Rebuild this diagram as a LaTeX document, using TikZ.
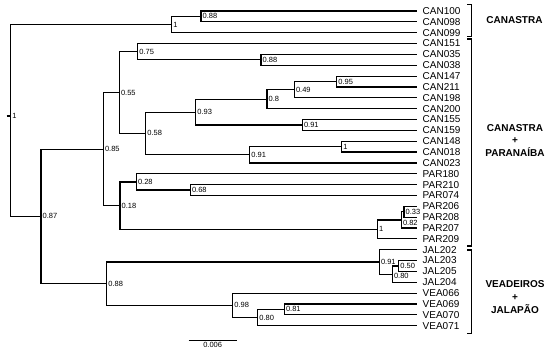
\documentclass[tikz,border=0pt]{standalone}
\usepackage{fontspec}
\setmainfont{Liberation Sans}
\begin{document}
\begin{tikzpicture}[x=1pt, y=-1pt,
  branch/.style={line width=1.2pt},
  leaf/.style={anchor=west, inner sep=0pt, inner xsep=5.5pt, font=\fontsize{10}{10}\selectfont},
  sup/.style={anchor=west, inner sep=1.5pt, font=\fontsize{7.5}{7.5}\selectfont},
  clade/.style={align=center, font=\bfseries\fontsize{10}{12.8}\selectfont},
  bracket/.style={line width=1.4pt}]
  \useasboundingbox (0,0) rectangle (550,351);
  % leaves
  \foreach \n [count=\i from 0] in {CAN100,CAN098,CAN099,CAN151,CAN035,CAN038,CAN147,CAN211,CAN198,CAN200,CAN155,CAN159,CAN148,CAN018,CAN023,PAR180,PAR210,PAR074,PAR206,PAR208,PAR207,PAR209,JAL202,JAL203,JAL205,JAL204,VEA066,VEA069,VEA070,VEA071}
    \node[leaf] (\n) at (417,{11+10.85*\i}) {\n};
  % internal nodes
  \foreach \n/\x/\y in {root/10.7/116, c1/171.7/24.6, c88/201/16.4, n75/137.7/51.7, n88b/261/59.8,
    n95/336.7/81.5, n49/294.3/89.7, n8/267/99.2, n91a/302.3/124.9, n93/195.7/112.1,
    n1a/341.7/146.6, n91b/249.7/154.8, n58/145.7/133.4, n55/119.3/92.6, n68/190.3/190,
    n28/136.3/181.9, n33/404/211.7, n82/401.3/219.9, n1b/377.3/229.4, n18/120/205.6,
    n85/103.3/149.1, n50/398.7/266, n80a/392.3/274.1, n91c/379.3/261.9, n81/284.3/309.4,
    n80b/257.7/317.5, n98/232.7/305.3, n88c/106.7/283.6, n87/41/216.4}
    \coordinate (\n) at (\x,\y);
  \coordinate (stub) at (6.7,116);
  % branches
  \draw[branch] (stub) -- (root);
  \foreach \a/\b in {root/c1, root/n87, c1/c88, n87/n85, n87/n88c, n85/n55, n85/n18,
    n55/n75, n55/n58, n75/n88b, n58/n93, n58/n91b, n93/n8, n93/n91a, n8/n49, n49/n95,
    n91b/n1a, n18/n28, n18/n1b, n28/n68, n1b/n82, n82/n33, n88c/n91c, n88c/n98,
    n91c/n80a, n80a/n50, n98/n80b, n80b/n81}
    \draw[branch] (\a) |- (\b);
  \foreach \a/\b in {c88/CAN100, c88/CAN098, c1/CAN099, n75/CAN151, n88b/CAN035, n88b/CAN038,
    n95/CAN147, n95/CAN211, n49/CAN198, n8/CAN200, n91a/CAN155, n91a/CAN159, n1a/CAN148,
    n1a/CAN018, n91b/CAN023, n28/PAR180, n68/PAR210, n68/PAR074, n33/PAR206, n33/PAR208,
    n82/PAR207, n1b/PAR209, n91c/JAL202, n50/JAL203, n50/JAL205, n80a/JAL204, n98/VEA066,
    n81/VEA069, n81/VEA070, n80b/VEA071}
    \draw[branch] (\a) |- (\b.west);
  % support values
  \foreach \n/\t in {root/1, c1/1, c88/0.88, n75/0.75, n88b/0.88, n95/0.95, n49/0.49, n8/0.8,
    n93/0.93, n91a/0.91, n58/0.58, n1a/1, n91b/0.91, n55/0.55, n85/0.85, n28/0.28, n68/0.68,
    n18/0.18, n33/0.33, n1b/1, n87/0.87, n91c/0.91, n50/0.50, n88c/0.88, n98/0.98,
    n81/0.81, n80b/0.80}
    \node[sup] (s\n) at (\n) {\t};
  \node[sup, yshift=-3pt] (sn82) at (n82) {0.82};
  \node[sup, yshift=-2pt] (sn80a) at (n80a) {0.80};
  % clades
  \draw[bracket] (467,4.5) -- (471.5,4.5) -- (471.5,36.5) -- (467,36.5);
  \draw[bracket] (467,39) -- (471.5,39) -- (471.5,246) -- (467,246);
  \draw[bracket] (467,250) -- (471.5,250) -- (471.5,333.3) -- (467,333.3);
  \node[clade] (canastra) at (514.5,20) {CANASTRA};
  \node[clade] (canpar) at (515,140.5) {CANASTRA\\+\\PARANAÍBA};
  \node[clade] (veajal) at (515,297.2) {VEADEIROS\\+\\JALAPÃO};
  % scale
  \coordinate (sb1) at (188.7,340.3);
  \coordinate (sb2) at (236.7,340.3);
  \draw[line width=0.8pt] (sb1) -- (sb2) node[midway, below, inner sep=1.5pt, font=\fontsize{7.5}{7.5}\selectfont] (scale) {0.006};
\end{tikzpicture}
\end{document}
